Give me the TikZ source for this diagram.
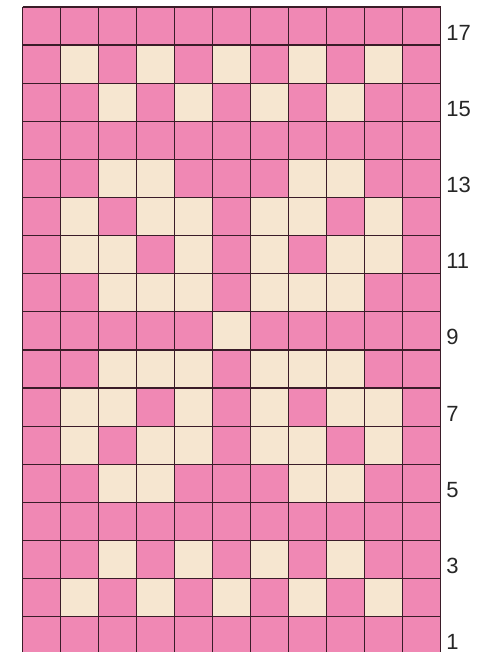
\documentclass[tikz,border=0pt]{standalone}
\usepackage{fontspec}
\setmainfont{Liberation Sans}
\definecolor{cellpink}{RGB}{240,136,180}
\definecolor{cellcream}{RGB}{246,230,208}
\definecolor{gridline}{RGB}{58,28,40}
\begin{document}
\begin{tikzpicture}[x=0.75pt,y=-0.75pt,
  creamcell/.style={fill=cellcream},
  gridrule/.style={draw=gridline,line width=0.9pt},
  rowlabel/.style={anchor=west,inner sep=0pt,font=\fontsize{16.5}{18}\selectfont,text=black!85}]
\useasboundingbox (0,0) rectangle (491,652);
\pgfmathsetmacro{\cw}{38}
\pgfmathsetmacro{\rh}{38.1}
% pink background of the grid
\fill[cellpink] (22.5,7) rectangle ({22.5+11*\cw},{7+17*\rh});
% cream cells
\foreach \r/\cs in {16/{2,4,6,8,10},15/{3,5,7,9},13/{3,4,8,9},12/{2,4,5,7,8,10},
  11/{2,3,5,7,9,10},10/{3,4,5,7,8,9},9/{6},8/{3,4,5,7,8,9},7/{2,3,5,7,9,10},
  6/{2,4,5,7,8,10},5/{3,4,8,9},3/{3,5,7,9},2/{2,4,6,8,10}}{
  \foreach \c in \cs {
    \fill[creamcell] ({22.5+(\c-1)*\cw},{7+(17-\r)*\rh}) rectangle +(\cw,\rh);
  }
}
% grid lines
\foreach \i in {0,...,11}
  \draw[gridrule] ({22.5+\i*\cw},7) -- ({22.5+\i*\cw},{7+17*\rh});
\foreach \j in {0,...,17}
  \draw[gridrule] (22.5,{7+\j*\rh}) -- ({22.5+11*\cw},{7+\j*\rh});
% row labels
\foreach \r in {1,3,...,17}
  \node[rowlabel] (lab\r) at (446,{7+(17-\r)*\rh+\rh/2+6.5}) {\r};
\end{tikzpicture}
\end{document}
